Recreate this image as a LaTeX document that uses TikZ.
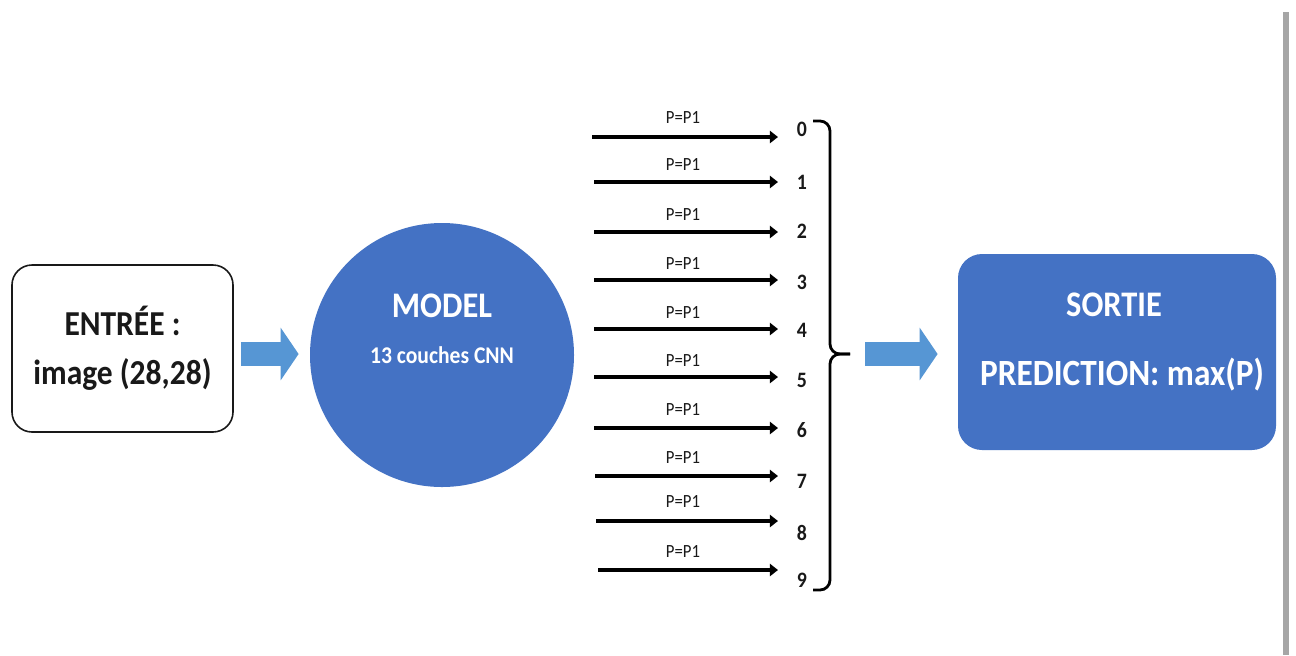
\documentclass[tikz,border=0pt]{standalone}
\usepackage{fontspec}
\setmainfont{Carlito}
\usetikzlibrary{arrows.meta}
\definecolor{cblue}{RGB}{68,114,196}
\definecolor{ablue}{RGB}{86,150,212}
\definecolor{txt}{RGB}{25,25,25}
\newcommand{\cnd}[1]{\scalebox{0.9}[1]{#1}}
\begin{document}
\begin{tikzpicture}[x=0.5pt,y=-0.5pt,
  inbox/.style={draw=txt, line width=0.8pt, rounded corners=10pt, fill=white,
    minimum width=110.5pt, minimum height=83.5pt, align=center, text=txt,
    font=\bfseries\fontsize{17.5}{24.5}\selectfont},
  outbox/.style={fill=cblue, rounded corners=12pt, minimum width=159pt, minimum height=98pt},
  modelc/.style={circle, fill=cblue, minimum size=132pt, inner sep=0pt},
  wtitle/.style={text=white, font=\bfseries\fontsize{18}{20}\selectfont},
  wsub/.style={text=white, font=\bfseries\fontsize{12}{14}\selectfont},
  wline/.style={text=white, font=\bfseries\fontsize{18.5}{21}\selectfont},
  bigarrow/.style={draw=ablue, line width=12pt, -{Triangle[length=9pt,width=26pt]}},
  probarrow/.style={draw=black, line width=2.3pt, -{Triangle[length=4pt,width=6pt]}},
  plabel/.style={text=txt, inner sep=0pt, font=\fontsize{9.3}{11}\selectfont},
  digit/.style={text=txt, inner sep=0pt, font=\bfseries\fontsize{11}{13}\selectfont},
  bracel/.style={draw=black, line width=1.4pt, rounded corners=5pt}
]
\useasboundingbox (0,0) rectangle (1296,655);
\fill[white] (0,0) rectangle (1296,655);

% input
\node[inbox] (in) at (122.5,348.5) {\cnd{ENTRÉE :}\\\cnd{image (28,28)}};

% model
\node[modelc] (model) at (442,355) {};
\node[wtitle] (mtitle) at (442,306) {\cnd{MODEL}};
\node[wsub] (msub) at (442,355) {\cnd{13 couches CNN}};

\draw[bigarrow, shorten <=3.5pt, shorten >=5.5pt] (in.east |- 0,354) -- (model.west |- 0,354);

% probability arrows
\foreach \i/\ya/\xa/\yl/\yd in {0/137/592/118/129, 1/182/594/165/182, 2/232/594/215/231,
  3/280/594/264/282, 4/329/594/313/330, 5/377/594/361/380, 6/428/594/410/430,
  7/476/595/458/481, 8/521/596/502/533, 9/570/598/551/580}{
  \coordinate (s\i) at (\xa,\ya);
  \node[plabel] (p\i) at (683,\yl) {\cnd{P=P1}};
  \node[digit] (d\i) at (802,\yd) {\cnd{\i}};
  \draw[probarrow, shorten >=9.3pt] (s\i) -- (s\i -| d\i.west);
}

% brace
\coordinate (btop) at (813,121);
\coordinate (bbot) at (813,590);
\coordinate (btip) at (850,354);
\draw[bracel] (btop) -| (830,354) -- (btip);
\draw[bracel] (btip) -- (830,354) |- (bbot);

% output
\node[outbox] (out) at (1117,352) {};
\node[wtitle] (otitle) at (1114,305) {\cnd{SORTIE}};
\node[wline] (oline) at (1122,375) {\cnd{PREDICTION: max(P)}};

\draw[bigarrow, shorten <=7.5pt, shorten >=10pt] (btip) -- (out.west |- btip);

% page edge
\draw[line width=3pt, black!35] (1286,12) -- (1286,655);
\end{tikzpicture}
\end{document}
